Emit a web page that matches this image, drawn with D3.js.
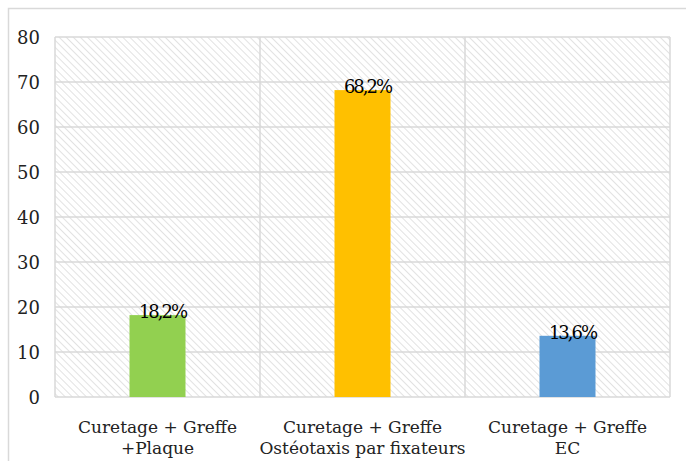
<!DOCTYPE html>
<html>
<head>
<meta charset="utf-8">
<script src="https://cdn.jsdelivr.net/npm/d3@7"></script>
<style>
  body { margin: 0; background: #fff; }
</style>
</head>
<body>
<script>
"use strict";

// data
var categories = ["Curetage + Greffe\n+Plaque", "Curetage + Greffe\nOstéotaxis par fixateurs", "Curetage + Greffe\nEC"];
var values = [18.2, 68.2, 13.6];
var value_labels = ["18,2%", "68,2%", "13,6%"];
var colors = ["#92D050", "#FFC000", "#5B9BD5"];
var y_ticks = [0, 10, 20, 30, 40, 50, 60, 70, 80];

var serif = "'DejaVu Serif', serif";

function draw_chart() {
    var width = 686;
    var height = 461;
    var svg = d3.select("body")
        .append("svg")
        .attr("width", width)
        .attr("height", height)
        .attr("font-family", serif);

    // outer frame
    svg.append("rect")
        .attr("x", 8.5).attr("y", 8.5)
        .attr("width", width + 10).attr("height", height + 10)
        .attr("fill", "none")
        .attr("stroke", "#d9d9d9")
        .attr("stroke-width", 1.5);

    var left = 55, right = 670, top = 37, bottom = 397;

    // hatch pattern
    var defs = svg.append("defs");
    var pat = defs.append("pattern")
        .attr("id", "hatch")
        .attr("patternUnits", "userSpaceOnUse")
        .attr("width", 5).attr("height", 5)
        .attr("patternTransform", "rotate(-45)");
    pat.append("rect").attr("width", 5).attr("height", 5).attr("fill", "#fff");
    pat.append("line")
        .attr("x1", 0).attr("y1", 0).attr("x2", 0).attr("y2", 5)
        .attr("stroke", "#e2e2e2").attr("stroke-width", 2);

    var x = d3.scaleBand()
        .domain(d3.range(categories.length))
        .range([left, right])
        .paddingInner(0).paddingOuter(0);
    var y = d3.scaleLinear().domain([0, 80]).range([bottom, top]);

    svg.append("rect")
        .attr("x", left).attr("y", top)
        .attr("width", right - left).attr("height", bottom - top)
        .attr("fill", "url(#hatch)");

    // horizontal grid
    svg.selectAll("line.hgrid")
        .data(y_ticks)
        .enter()
        .append("line")
        .attr("class", "hgrid")
        .attr("x1", left).attr("x2", right)
        .attr("y1", function(d) { return y(d); })
        .attr("y2", function(d) { return y(d); })
        .attr("stroke", "#d9d9d9")
        .attr("stroke-width", 1.5);

    // vertical grid at band boundaries
    var bounds = d3.range(categories.length + 1).map(function(i) {
        return i < categories.length ? x(i) : x(i - 1) + x.bandwidth();
    });
    svg.selectAll("line.vgrid")
        .data(bounds)
        .enter()
        .append("line")
        .attr("class", "vgrid")
        .attr("x1", function(d) { return d; })
        .attr("x2", function(d) { return d; })
        .attr("y1", top).attr("y2", bottom)
        .attr("stroke", "#d9d9d9")
        .attr("stroke-width", 1.5);

    // y tick labels
    svg.selectAll("text.ytick")
        .data(y_ticks)
        .enter()
        .append("text")
        .attr("class", "ytick")
        .attr("x", 40)
        .attr("y", function(d) { return y(d) + 7; })
        .attr("text-anchor", "end")
        .attr("font-size", 18)
        .attr("fill", "#222")
        .text(function(d) { return d; });

    // bars
    var bar_w = 56;
    svg.selectAll("rect.bar")
        .data(values)
        .enter()
        .append("rect")
        .attr("class", "bar")
        .attr("x", function(d, i) { return x(i) + x.bandwidth() / 2 - bar_w / 2; })
        .attr("y", function(d) { return y(d); })
        .attr("width", bar_w)
        .attr("height", function(d) { return bottom - y(d); })
        .attr("fill", function(d, i) { return colors[i]; });

    // value labels
    svg.selectAll("text.vlabel")
        .data(values)
        .enter()
        .append("text")
        .attr("class", "vlabel")
        .attr("x", function(d, i) { return x(i) + x.bandwidth() / 2 + 5; })
        .attr("y", function(d) { return y(d) + 3; })
        .attr("text-anchor", "middle")
        .attr("font-size", 18)
        .attr("letter-spacing", -2)
        .attr("fill", "#000")
        .text(function(d, i) { return value_labels[i]; });

    // category labels
    var cat = svg.selectAll("text.cat")
        .data(categories)
        .enter()
        .append("text")
        .attr("class", "cat")
        .attr("text-anchor", "middle")
        .attr("font-size", 17)
        .attr("fill", "#222");
    cat.selectAll("tspan")
        .data(function(d, i) {
            return d.split("\n").map(function(s) { return {t: s, i: i}; });
        })
        .enter()
        .append("tspan")
        .attr("x", function(d) { return x(d.i) + x.bandwidth() / 2; })
        .attr("y", function(d, j) { return 433 + j * 21; })
        .text(function(d) { return d.t; });
}

draw_chart();
</script>
</body>
</html>
